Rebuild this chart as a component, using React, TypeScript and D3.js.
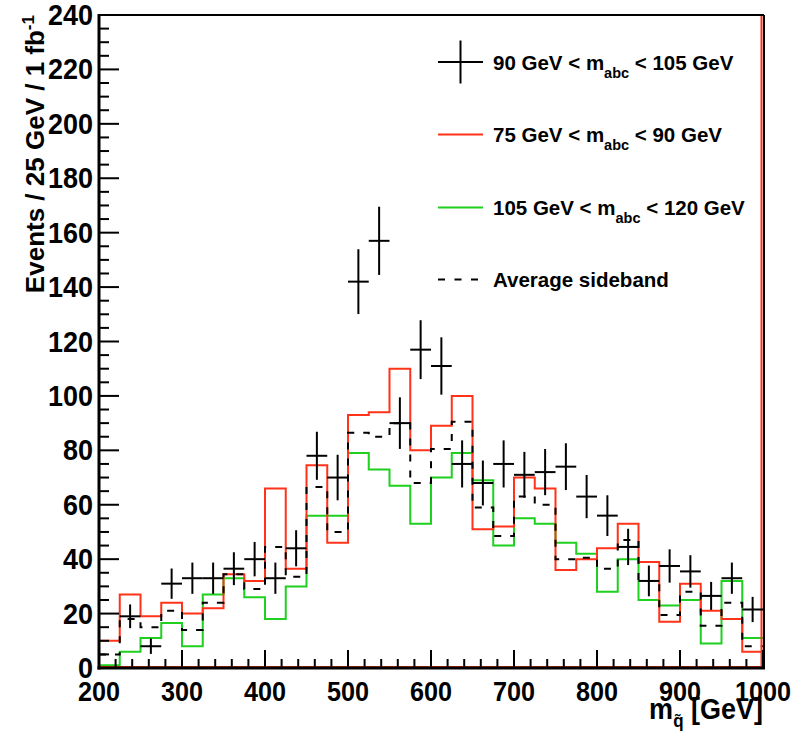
import React from "react";
import * as d3 from "d3";

const binLow: number[] = d3.range(200, 1000, 25);
const signal: (number | null)[] = [null, 19, 8, 31, 33, 33, 36.5, 40, 33, 44, 78, 70, 142, 157, 90, 117, 111, 75, 68, 75, 71, 72, 74, 63, 56, 44.5, 32, 37.5, 35.5, 26.5, 33, 21.5];
const lowSide: number[] = [10, 27, 19, 24, 20, 22, 34.5, 32, 66, 36.5, 74.5, 46, 93, 94, 110, 80, 89, 100, 51, 52, 70, 66, 36, 40, 44, 53, 39, 17, 31, 21, 18, 6];
const highSide: number[] = [1, 6, 11, 16.5, 8, 27, 33, 26, 18, 30, 56, 56, 79, 73, 67, 53, 70, 79, 69, 45, 55, 53, 46, 42, 28, 40, 25, 23, 25, 9, 32, 11];
const avgSide: number[] = [5, 18, 15, 21, 14, 24, 34.5, 29, 44.5, 33.5, 66.5, 50, 86.5, 85, 90, 68, 80.5, 90.5, 59, 48.5, 63, 60, 40, 40.5, 36.5, 47, 32, 19.5, 28, 15.5, 24, 8];
const xTicks: number[] = [200, 300, 400, 500, 600, 700, 800, 900, 1000];
const yTicks: number[] = [0, 20, 40, 60, 80, 100, 120, 140, 160, 180, 200, 220, 240];

const W = 801, H = 731;
const L = 99, R = 763, T = 15, B = 668;
const RED = "#ff3319";
const GREEN = "#1fd01f";
const FONT = "'Liberation Sans', Arial, Helvetica, sans-serif";

export default function App() {
  const x = d3.scaleLinear().domain([200, 1000]).range([L, R]);
  const y = d3.scaleLinear().domain([0, 240]).range([B, T]);
  const binW = 25;

  const stepPath = (vals: number[]) => {
    const pts: [number, number][] = vals.map((v, i) => [binLow[i], v]);
    pts.push([1000, vals[vals.length - 1]]);
    return d3.line<[number, number]>().x(d => x(d[0])).y(d => y(d[1])).curve(d3.curveStepAfter)(pts) || "";
  };

  const xMinor = d3.range(200, 1001, 20);
  const yMinor = d3.range(0, 241, 5);

  const legendItems = [
    { pre: "90 GeV < m", post: " < 105 GeV", kind: "cross", y: 62 },
    { pre: "75 GeV < m", post: " < 90 GeV", kind: "red", y: 134.5 },
    { pre: "105 GeV < m", post: " < 120 GeV", kind: "green", y: 207.5 },
    { pre: "Average sideband", post: "", kind: "dash", y: 279.5 },
  ];

  return (
    <svg width={W} height={H} style={{ display: "block", position: "absolute", left: 0, top: 0, background: "#fff" }}>
      <rect x={0} y={0} width={W} height={H} fill="#fff" />
      {/* histograms */}
      <path d={stepPath(highSide)} fill="none" stroke={GREEN} strokeWidth={2} />
      <path d={stepPath(lowSide)} fill="none" stroke={RED} strokeWidth={2} />
      <path d={stepPath(avgSide)} fill="none" stroke="#000" strokeWidth={2} strokeDasharray="7,9" />
      {/* red edge lines */}
      <line x1={L} x2={R} y1={B - 1} y2={B - 1} stroke={RED} strokeWidth={2} />
      <line x1={R - 1.5} x2={R - 1.5} y1={B} y2={T} stroke={RED} strokeWidth={2} />
      {/* data points */}
      {signal.map((v, i) => {
        if (v == null) return null;
        const cx = x(binLow[i] + binW / 2);
        const e = Math.sqrt(v);
        return (
          <g key={i} stroke="#000" strokeWidth={2}>
            <line x1={x(binLow[i])} x2={x(binLow[i] + binW)} y1={y(v)} y2={y(v)} />
            <line x1={cx} x2={cx} y1={y(v - e)} y2={y(v + e)} />
          </g>
        );
      })}
      {/* frame */}
      <line x1={L} x2={R + 1} y1={T} y2={T} stroke="#000" strokeWidth={2} />
      <line x1={R + 1} x2={R + 1} y1={T} y2={B} stroke="#000" strokeWidth={2} />
      <line x1={L} x2={L} y1={T - 1} y2={B + 1.5} stroke="#000" strokeWidth={3} />
      <line x1={L - 1.5} x2={R + 2} y1={B} y2={B} stroke="#000" strokeWidth={3} />
      {/* x ticks */}
      {xMinor.map(t => (
        <line key={"xm" + t} x1={x(t)} x2={x(t)} y1={B} y2={B - (t % 100 === 0 ? 18 : 9)} stroke="#000" strokeWidth={2} />
      ))}
      {yMinor.map(t => (
        <line key={"ym" + t} x1={L} x2={L + (t % 20 === 0 ? 20 : 10)} y1={y(t)} y2={y(t)} stroke="#000" strokeWidth={2} />
      ))}
      {/* tick labels */}
      {xTicks.map(t => (
        <text key={"xl" + t} transform={`translate(${x(t)},701) scale(0.97,1.08)`} textAnchor="middle" fontFamily={FONT} fontWeight="bold" fontSize={26}>{t}</text>
      ))}
      {yTicks.map(t => (
        <text key={"yl" + t} transform={`translate(93,${y(t) + 10}) scale(1,1.08)`} textAnchor="end" fontFamily={FONT} fontWeight="bold" fontSize={27}>{t}</text>
      ))}
      {/* axis titles */}
      <text transform={`translate(${R},719) scale(1,1.06)`} textAnchor="end" fontFamily={FONT} fontWeight="bold" fontSize={27}>
        m<tspan fontSize={17} dy={8}>{"q\u0303"}</tspan><tspan dy={-8}> [GeV]</tspan>
      </text>
      <text transform={`translate(44,${T}) rotate(-90)`} textAnchor="end" fontFamily={FONT} fontWeight="bold" fontSize={26}>
        Events / 25 GeV / 1 fb<tspan fontSize={17} dy={-10}>-1</tspan>
      </text>
      {/* legend */}
      {legendItems.map((it, i) => (
        <g key={"lg" + i}>
          {it.kind === "cross" && (
            <g stroke="#000" strokeWidth={2}>
              <line x1={438} x2={483} y1={it.y} y2={it.y} />
              <line x1={460.5} x2={460.5} y1={it.y - 21.5} y2={it.y + 21.5} />
            </g>
          )}
          {it.kind === "red" && <line x1={438} x2={483} y1={it.y} y2={it.y} stroke={RED} strokeWidth={2} />}
          {it.kind === "green" && <line x1={438} x2={483} y1={it.y} y2={it.y} stroke={GREEN} strokeWidth={2} />}
          {it.kind === "dash" && <line x1={438} x2={483} y1={it.y} y2={it.y} stroke="#000" strokeWidth={2} strokeDasharray="7,9.5" />}
          <text x={493} y={it.y + 7.5} fontFamily={FONT} fontWeight="bold" fontSize={20.5}>
            {it.pre}
            {it.post !== "" && <tspan fontSize={14.5} dy={8}>abc</tspan>}
            {it.post !== "" && <tspan dy={-8}>{it.post}</tspan>}
          </text>
        </g>
      ))}
    </svg>
  );
}
